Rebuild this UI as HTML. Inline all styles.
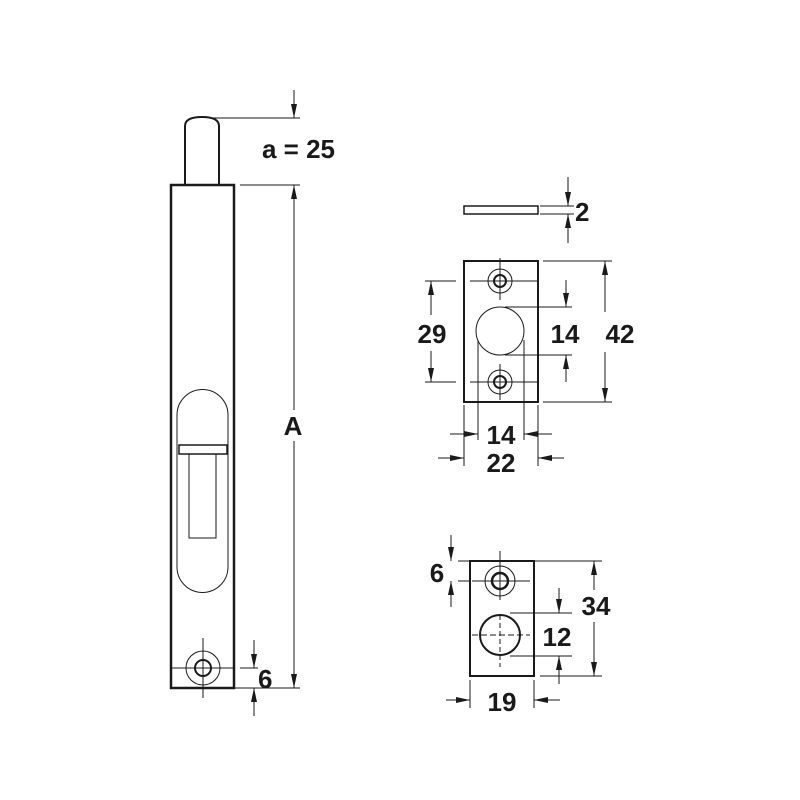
<!DOCTYPE html>
<html><head><meta charset="utf-8"><style>
html,body{margin:0;padding:0;background:#fff;width:800px;height:800px;overflow:hidden}
svg{display:block}
text{font-family:"Liberation Sans",sans-serif;font-weight:bold;font-size:26px;fill:#1a1a1a}
</style></head><body>
<svg width="800" height="800" viewBox="0 0 800 800" xmlns="http://www.w3.org/2000/svg">
<defs>
<marker id="ar" viewBox="0 0 14 6" refX="14" refY="3" markerWidth="14" markerHeight="6" markerUnits="userSpaceOnUse" orient="auto">
<path d="M0,0 L14,3 L0,6 z" fill="#1a1a1a"/></marker>
</defs>
<g stroke="#1a1a1a" fill="none">
<!-- left bolt -->
<path d="M185,185 V126 Q185,117 202,117 Q219,117 219,126 V185" stroke-width="2"/>
<rect x="171" y="185" width="63" height="503" stroke-width="2.5"/>
<path d="M177,415 A25.5,25.5 0 0 1 228,415 V567 A25.5,25.5 0 0 1 177,567 Z" stroke-width="1"/>
<rect x="179" y="445" width="48" height="9" stroke-width="1.5"/>
<rect x="189" y="454" width="27" height="84" stroke-width="1"/>
<circle cx="203" cy="668" r="17" stroke-width="1"/>
<circle cx="203" cy="668" r="8" stroke-width="2"/>
<line x1="171" y1="668" x2="234" y2="668" stroke-width="1"/>
<line x1="203" y1="638" x2="203" y2="698" stroke-width="1"/>
<!-- dims left -->
<line x1="212" y1="118" x2="300" y2="118" stroke-width="1"/>
<line x1="240" y1="185" x2="300" y2="185" stroke-width="1"/>
<line x1="294" y1="90" x2="294" y2="118" stroke-width="1" marker-end="url(#ar)"/>
<line x1="294" y1="410" x2="294" y2="185" stroke-width="1" marker-end="url(#ar)"/>
<line x1="294" y1="441" x2="294" y2="688" stroke-width="1" marker-end="url(#ar)"/>
<line x1="234" y1="688" x2="300" y2="688" stroke-width="1"/>
<line x1="240" y1="668" x2="258" y2="668" stroke-width="1"/>
<line x1="254" y1="640" x2="254" y2="668" stroke-width="1" marker-end="url(#ar)"/>
<line x1="254" y1="716" x2="254" y2="688" stroke-width="1" marker-end="url(#ar)"/>
<!-- thin plate -->
<rect x="464" y="206" width="74" height="8" stroke-width="1.5"/>
<line x1="540" y1="206" x2="574" y2="206" stroke-width="1"/>
<line x1="540" y1="214" x2="574" y2="214" stroke-width="1"/>
<line x1="568" y1="177" x2="568" y2="206" stroke-width="1" marker-end="url(#ar)"/>
<line x1="568" y1="243" x2="568" y2="214" stroke-width="1" marker-end="url(#ar)"/>
<!-- plate -->
<rect x="464" y="261" width="74" height="141" stroke-width="2"/>
<circle cx="500" cy="281" r="12" stroke-width="1"/>
<circle cx="500" cy="281" r="6" stroke-width="2"/>
<circle cx="500" cy="382" r="12" stroke-width="1"/>
<circle cx="500" cy="382" r="6" stroke-width="2"/>
<circle cx="500" cy="331" r="24" stroke-width="1"/>
<line x1="470" y1="281" x2="538" y2="281" stroke-width="1"/>
<line x1="470" y1="382" x2="538" y2="382" stroke-width="1"/>
<line x1="500" y1="258" x2="500" y2="300" stroke-width="1"/>
<line x1="500" y1="364" x2="500" y2="400" stroke-width="1"/>
<line x1="543" y1="261" x2="612" y2="261" stroke-width="1"/>
<line x1="543" y1="402" x2="612" y2="402" stroke-width="1"/>
<line x1="605" y1="312" x2="605" y2="261" stroke-width="1" marker-end="url(#ar)"/>
<line x1="605" y1="352" x2="605" y2="402" stroke-width="1" marker-end="url(#ar)"/>
<line x1="425" y1="281" x2="456" y2="281" stroke-width="1"/>
<line x1="425" y1="382" x2="456" y2="382" stroke-width="1"/>
<line x1="431" y1="315" x2="431" y2="281" stroke-width="1" marker-end="url(#ar)"/>
<line x1="431" y1="351" x2="431" y2="382" stroke-width="1" marker-end="url(#ar)"/>
<line x1="505" y1="307" x2="572" y2="307" stroke-width="1"/>
<line x1="505" y1="355" x2="572" y2="355" stroke-width="1"/>
<line x1="566" y1="280" x2="566" y2="307" stroke-width="1" marker-end="url(#ar)"/>
<line x1="566" y1="382" x2="566" y2="355" stroke-width="1" marker-end="url(#ar)"/>
<line x1="478" y1="340" x2="478" y2="440" stroke-width="1"/>
<line x1="524" y1="340" x2="524" y2="440" stroke-width="1"/>
<line x1="450" y1="434" x2="478" y2="434" stroke-width="1" marker-end="url(#ar)"/>
<line x1="552" y1="434" x2="524" y2="434" stroke-width="1" marker-end="url(#ar)"/>
<line x1="464" y1="405" x2="464" y2="466" stroke-width="1"/>
<line x1="538" y1="405" x2="538" y2="466" stroke-width="1"/>
<line x1="438" y1="458" x2="464" y2="458" stroke-width="1" marker-end="url(#ar)"/>
<line x1="564" y1="458" x2="538" y2="458" stroke-width="1" marker-end="url(#ar)"/>
<!-- bottom block -->
<rect x="470" y="561" width="64" height="115" stroke-width="2"/>
<circle cx="500" cy="581" r="15" stroke-width="1"/>
<circle cx="500" cy="581" r="8" stroke-width="2.5"/>
<circle cx="500" cy="635" r="20" stroke-width="2"/>
<line x1="500" y1="551" x2="500" y2="600" stroke-width="1"/>
<line x1="500" y1="615" x2="500" y2="667" stroke-width="1" stroke-dasharray="5,3"/>
<line x1="472" y1="581" x2="530" y2="581" stroke-width="1"/>
<line x1="472" y1="635" x2="530" y2="635" stroke-width="1" stroke-dasharray="6,3"/>
<line x1="534" y1="561" x2="602" y2="561" stroke-width="1"/>
<line x1="540" y1="676" x2="602" y2="676" stroke-width="1"/>
<line x1="594" y1="590" x2="594" y2="561" stroke-width="1" marker-end="url(#ar)"/>
<line x1="594" y1="622" x2="594" y2="676" stroke-width="1" marker-end="url(#ar)"/>
<line x1="510" y1="613" x2="572" y2="613" stroke-width="1"/>
<line x1="510" y1="656" x2="572" y2="656" stroke-width="1"/>
<line x1="559" y1="588" x2="559" y2="613" stroke-width="1" marker-end="url(#ar)"/>
<line x1="559" y1="684" x2="559" y2="656" stroke-width="1" marker-end="url(#ar)"/>
<line x1="458" y1="561" x2="470" y2="561" stroke-width="1"/>
<line x1="458" y1="581" x2="470" y2="581" stroke-width="1"/>
<line x1="451" y1="535" x2="451" y2="561" stroke-width="1" marker-end="url(#ar)"/>
<line x1="451" y1="607" x2="451" y2="581" stroke-width="1" marker-end="url(#ar)"/>
<line x1="470" y1="680" x2="470" y2="708" stroke-width="1"/>
<line x1="534" y1="680" x2="534" y2="708" stroke-width="1"/>
<line x1="446" y1="700" x2="470" y2="700" stroke-width="1" marker-end="url(#ar)"/>
<line x1="560" y1="700" x2="534" y2="700" stroke-width="1" marker-end="url(#ar)"/>
</g>
<text x="262" y="158">a = 25</text>
<text x="293" y="435" text-anchor="middle">A</text>
<text x="258" y="688">6</text>
<text x="575" y="221">2</text>
<text x="432" y="343" text-anchor="middle">29</text>
<text x="565" y="343" text-anchor="middle">14</text>
<text x="620" y="343" text-anchor="middle">42</text>
<text x="501" y="444" text-anchor="middle">14</text>
<text x="501" y="472" text-anchor="middle">22</text>
<text x="437" y="582" text-anchor="middle">6</text>
<text x="596" y="615" text-anchor="middle">34</text>
<text x="557" y="646" text-anchor="middle">12</text>
<text x="502" y="711" text-anchor="middle">19</text>
</svg>
</body></html>
